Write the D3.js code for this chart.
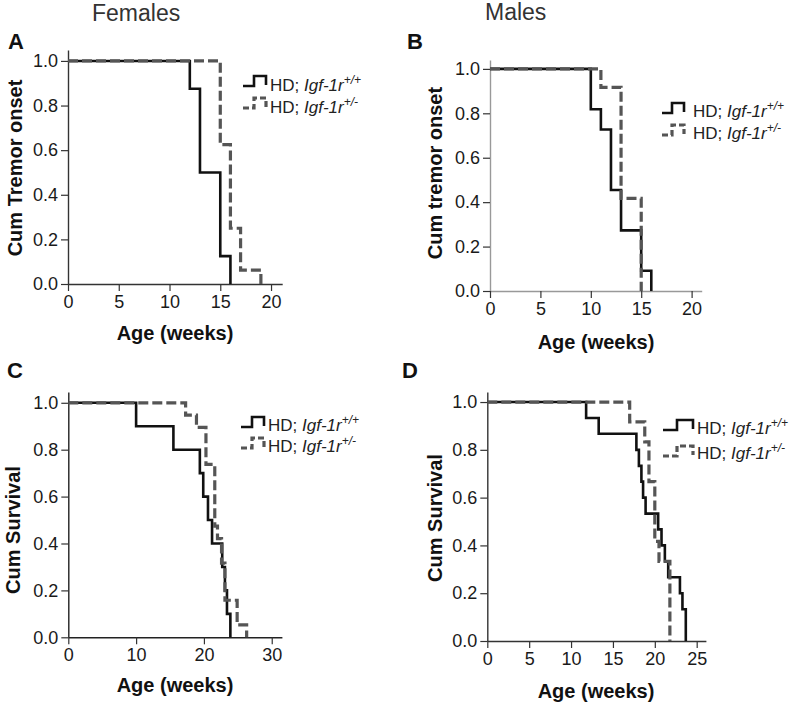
<!DOCTYPE html>
<html><head><meta charset="utf-8">
<script src="https://cdn.jsdelivr.net/npm/d3@7"></script>
<style>body{margin:0;background:#fff}svg{display:block}text{font-family:"Liberation Sans",Arial,sans-serif}</style>
</head><body><svg id="c" width="796" height="704"></svg>
<script>
// ---- data (Kaplan-Meier steps: time in weeks, cumulative proportion) ----
const femTremorWT_t  = [0, 12, 13, 15, 16];
const femTremorWT_s  = [1, 0.875, 0.5, 0.125, 0];
const femTremorHet_t = [0, 15, 16, 17, 19];
const femTremorHet_s = [1, 0.625, 0.25, 0.0625, 0];

const malTremorWT_t  = [0, 10, 11, 12, 13, 15, 16];
const malTremorWT_s  = [1, 0.818, 0.727, 0.455, 0.273, 0.091, 0];
const malTremorHet_t = [0, 11, 13, 15];
const malTremorHet_s = [1, 0.917, 0.417, 0];

const femSurvWT_t  = [0, 10, 15.5, 19.4, 19.9, 20.6, 21.2, 22.7, 23.1, 23.4, 23.9];
const femSurvWT_s  = [1, 0.9, 0.8, 0.7, 0.6, 0.5, 0.4, 0.3, 0.2, 0.1, 0];
const femSurvHet_t = [0, 17.3, 18.9, 20.3, 21.6, 22.0, 22.6, 23.1, 24.9, 26.3];
const femSurvHet_s = [1, 0.947, 0.895, 0.737, 0.474, 0.421, 0.316, 0.158, 0.053, 0];

const malSurvWT_t  = [0, 11.8, 13.3, 17.8, 18.1, 18.4, 18.6, 18.9, 20.4, 20.8, 21.2, 21.6, 23.0, 23.3, 23.7];
const malSurvWT_s  = [1, 0.933, 0.867, 0.8, 0.733, 0.667, 0.6, 0.533, 0.467, 0.4, 0.333, 0.267, 0.2, 0.133, 0];
const malSurvHet_t = [0, 17.0, 18.8, 19.3, 20.0, 20.5, 21.8];
const malSurvHet_s = [1, 0.917, 0.833, 0.667, 0.417, 0.333, 0];

const xTicksTremor = [0, 5, 10, 15, 20];
const xTicksSurvF  = [0, 10, 20, 30];
const xTicksSurvM  = [0, 5, 10, 15, 20, 25];
const yTicks = [0, 0.2, 0.4, 0.6, 0.8, 1.0];
const genotypeSup = ["+/+", "+/-"];
const yTitles = ["Cum Tremor onset", "Cum tremor onset", "Cum Survival", "Cum Survival"];
const xTitle = "Age (weeks)";
const panelLetters = ["A", "B", "C", "D"];
const columnTitles = ["Females", "Males"];

// ---- layout ----
const panels = [
  {wt:[femTremorWT_t, femTremorWT_s], het:[femTremorHet_t, femTremorHet_s], xt:xTicksTremor,
   xL:68, xR:282.2, xMax:21.1, yB:284, yT:50, yMax:1.049, axisCol:"#333",
   letter:{x:8,y:49}, yTitle:{x:22,y:168}, xTitle:{x:175,y:340},
   leg:{sx:243, sy:[86,108], w:23, tx:270, ty:[91,113]}},
  {wt:[malTremorWT_t, malTremorWT_s], het:[malTremorHet_t, malTremorHet_s], xt:xTicksTremor,
   xL:490, xR:701.7, xMax:21.0, yB:291, yT:60, yMax:1.04, axisCol:"#999",
   letter:{x:407,y:49}, yTitle:{x:442,y:173}, xTitle:{x:596,y:349},
   leg:{sx:662, sy:[113,135], w:22, tx:693, ty:[117,139]}},
  {wt:[femSurvWT_t, femSurvWT_s], het:[femSurvHet_t, femSurvHet_s], xt:xTicksSurvF,
   xL:68.3, xR:281.9, xMax:31.5, yB:637.3, yT:392, yMax:1.046, axisCol:"#222",
   letter:{x:7,y:378}, yTitle:{x:20,y:530}, xTitle:{x:175,y:692},
   leg:{sx:241, sy:[427,448], w:23, tx:268, ty:[431,452]}},
  {wt:[malSurvWT_t, malSurvWT_s], het:[malSurvHet_t, malSurvHet_s], xt:xTicksSurvM,
   xL:487.3, xR:705.9, xMax:26.1, yB:641, yT:392, yMax:1.042, axisCol:"#333",
   letter:{x:402,y:378}, yTitle:{x:442,y:518}, xTitle:{x:596,y:698},
   leg:{sx:663, sy:[430,456], w:30, tx:697, ty:[434,459]}}
];

const svg = d3.select("#c");
const FONT = '"Liberation Sans", Arial, sans-serif';

// column titles
svg.append("text").attr("x", 92).attr("y", 21).attr("font-size", 23).attr("fill", "#333").text(columnTitles[0]);
svg.append("text").attr("x", 485).attr("y", 20).attr("font-size", 23).attr("fill", "#333").text(columnTitles[1]);

const styles = [
  {stroke:"#111", width:2.6, dash:null},
  {stroke:"#555", width:3.2, dash:"10,4"}
];

panels.forEach((p, i) => {
  const g = svg.append("g");
  const x = d3.scaleLinear().domain([0, p.xMax]).range([p.xL, p.xR]);
  const y = d3.scaleLinear().domain([0, p.yMax]).range([p.yB, p.yT]);

  const yAx = g.append("g").attr("transform", `translate(${p.xL},0)`)
    .call(d3.axisLeft(y).tickValues(yTicks).tickFormat(d3.format(".1f")).tickSize(7).tickSizeOuter(0).tickPadding(3));
  const xAx = g.append("g").attr("transform", `translate(0,${p.yB})`)
    .call(d3.axisBottom(x).tickValues(p.xt).tickFormat(d3.format("d")).tickSize(7).tickSizeOuter(0).tickPadding(4));
  [yAx, xAx].forEach(a => {
    a.attr("font-family", FONT).attr("font-size", 18);
    a.select(".domain").attr("stroke", p.axisCol).attr("stroke-width", 1.4);
    a.selectAll(".tick line").attr("stroke", "#333").attr("stroke-width", 1.2);
    a.selectAll(".tick text").attr("fill", "#1a1a1a");
  });

  const line = d3.line().x(d => x(d[0])).y(d => y(d[1])).curve(d3.curveStepAfter);
  [p.wt, p.het].forEach((ser, k) => {
    const pts = ser[0].map((t, j) => [t, ser[1][j]]);
    const st = styles[k];
    g.append("path").attr("d", line(pts)).attr("fill", "none")
      .attr("stroke", st.stroke).attr("stroke-width", st.width)
      .attr("stroke-dasharray", st.dash).attr("stroke-linejoin", "miter").attr("stroke-linecap", "butt");
  });

  // legend
  [0, 1].forEach(k => {
    const st = styles[k];
    const sx = p.leg.sx, sy = p.leg.sy[k], w = p.leg.w, lw = Math.round(w * 0.47);
    g.append("path").attr("d", `M${sx},${sy}H${sx+lw}V${sy-10}H${sx+w}V${sy-1}`)
      .attr("fill", "none").attr("stroke", st.stroke).attr("stroke-width", st.width)
      .attr("stroke-dasharray", k ? "6,3" : null);
    const t = g.append("text").attr("x", p.leg.tx).attr("y", p.leg.ty[k]).attr("font-size", 17).attr("fill", "#222");
    t.append("tspan").text("HD; ");
    t.append("tspan").attr("font-style", "italic").text("Igf-1r");
    t.append("tspan").attr("font-style", "italic").attr("font-size", 12).attr("dy", -7).text(genotypeSup[k]);
  });

  // titles
  g.append("text").attr("x", p.letter.x).attr("y", p.letter.y).attr("font-size", 22).attr("font-weight", "bold").attr("fill", "#111").text(panelLetters[i]);
  g.append("text").attr("transform", `translate(${p.yTitle.x},${p.yTitle.y}) rotate(-90)`)
    .attr("text-anchor", "middle").attr("font-size", 20).attr("font-weight", "bold").attr("fill", "#111").text(yTitles[i]);
  g.append("text").attr("x", p.xTitle.x).attr("y", p.xTitle.y).attr("text-anchor", "middle")
    .attr("font-size", 20).attr("font-weight", "bold").attr("fill", "#111").text(xTitle);
});
</script></body></html>
